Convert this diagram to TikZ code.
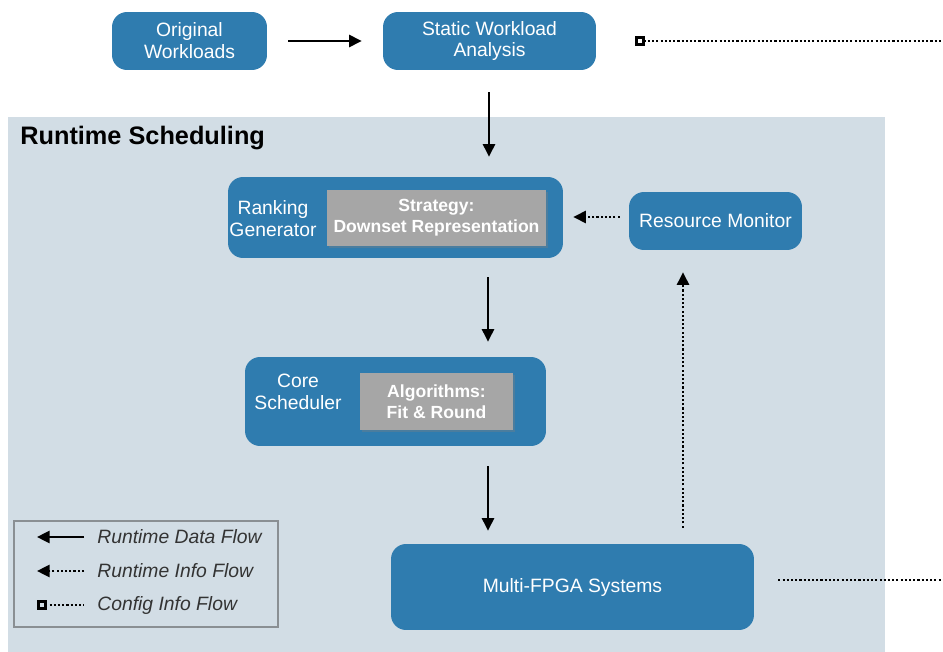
\documentclass[tikz,border=0pt]{standalone}
\usepackage{fontspec}
\setmainfont{Liberation Sans}
\usetikzlibrary{arrows.meta,shadows}

\definecolor{boxblue}{HTML}{2F7CAF}
\definecolor{panelgray}{HTML}{D2DDE5}
\definecolor{stratgray}{HTML}{A6A6A6}
\definecolor{legendline}{HTML}{8A8F93}

\tikzset{
  block/.style={fill=boxblue, rounded corners=0.3cm, text=white, align=center,
    font=\fontsize{11}{12.5}\selectfont, inner sep=0pt},
  blocktext/.style={text=white, align=center, font=\fontsize{11}{12.5}\selectfont, inner sep=0pt},
  strategybox/.style={fill=stratgray, text=white, align=center, inner sep=0pt,
    font=\bfseries\fontsize{10}{12}\selectfont,
    drop shadow={shadow xshift=1.2pt, shadow yshift=-1.2pt, opacity=0.35}},
  dataflow/.style={-{Triangle[length=7.2pt,width=7pt]}, line width=1.1pt},
  infoflow/.style={-{Triangle[length=7.2pt,width=7pt]}, line width=1.1pt, dash pattern=on 1.2pt off 1.2pt},
  configflow/.style={{Square[open,line width=1.5pt,length=5.5pt,width=5.5pt]}-, line width=1.1pt, dash pattern=on 1.2pt off 1.2pt},
  plaindots/.style={line width=1.1pt, dash pattern=on 1.2pt off 1.2pt},
  legtext/.style={anchor=west, inner sep=0pt, text=black!80, font=\itshape\fontsize{11}{13}\selectfont},
}

\begin{document}
\begin{tikzpicture}[x=0.02cm, y=-0.02cm]
    \useasboundingbox (0,0) rectangle (943,652);

    % Draw the scheduling panel
    \fill[panelgray] (8,117) rectangle (885,652);
    \node[anchor=west, inner sep=0pt, font=\bfseries\fontsize{14.4}{16}\selectfont] (title) at (20,138) {Runtime Scheduling};

    % Blocks outside the panel
    \node[block, minimum width=3.1cm, minimum height=1.16cm] (orig) at (189.5,41) {Original\\Workloads};
    \node[block, minimum width=4.26cm, minimum height=1.16cm] (static) at (489.5,41) {Static Workload\\Analysis};

    % Blocks inside the panel
    \node[block, minimum width=6.7cm, minimum height=1.62cm] (ranking) at (395.5,217.5) {};
    \node[blocktext] (rglabel) at (273,219) {Ranking\\Generator};
    \node[strategybox, minimum width=4.38cm, minimum height=1.12cm] (strategy) at (436.5,218) {Strategy:\\Downset Representation};

    \node[block, minimum width=3.46cm, minimum height=1.16cm] (monitor) at (715.5,221) {Resource Monitor};

    \node[block, minimum width=6.02cm, minimum height=1.78cm] (core) at (395.5,401.5) {};
    \node[blocktext] (corelabel) at (298,392) {Core\\Scheduler};
    \node[strategybox, minimum width=3.06cm, minimum height=1.14cm] (algo) at (436.5,401.5) {Algorithms:\\Fit \& Round};

    \node[block, minimum width=7.26cm, minimum height=1.72cm] (multi) at (572.5,587) {Multi-FPGA Systems};

    % Free ends of the flows
    \coordinate (upx) at (683,0);
    \coordinate (cfgend) at (943,41);
    \coordinate (sysend) at (943,580);

    % Flows between the blocks
    \draw[dataflow, shorten <=0.42cm, shorten >=0.42cm] (orig) -- (static);
    \draw[dataflow, shorten <=0.44cm, shorten >=0.4cm] (static.south -| 489,0) -- (ranking.north -| 489,0);
    \draw[dataflow, shorten <=0.38cm, shorten >=0.3cm] (ranking.south -| 488,0) -- (core.north -| 488,0);
    \draw[dataflow, shorten <=0.4cm, shorten >=0.26cm] (core.south -| 488,0) -- (multi.north -| 488,0);
    \draw[infoflow, shorten <=0.18cm, shorten >=0.2cm] (monitor.west |- 0,217) -- (ranking.east |- 0,217);
    \draw[infoflow, shorten <=0.32cm, shorten >=0.44cm] (multi.north -| upx) -- (monitor.south -| upx);
    \draw[configflow, shorten <=0.78cm] (static.east) -- (cfgend);
    \draw[plaindots, shorten <=0.48cm] (multi.east |- sysend) -- (sysend);

    % Legend
    \node[draw=legendline, line width=0.6pt, minimum width=5.28cm, minimum height=2.12cm] (legend) at (146,574) {};
    \node[legtext] (lg1) at (97,537) {Runtime Data Flow};
    \node[legtext] (lg2) at (97,571) {Runtime Info Flow};
    \node[legtext] (lg3) at (97,605) {Config Info Flow};
    \coordinate (l1a) at (84,537); \coordinate (l1b) at (37,537);
    \coordinate (l2a) at (84,571); \coordinate (l2b) at (37,571);
    \coordinate (l3a) at (37,605); \coordinate (l3b) at (84,605);
    \draw[dataflow] (l1a) -- (l1b);
    \draw[infoflow] (l2a) -- (l2b);
    \draw[configflow] (l3a) -- (l3b);
\end{tikzpicture}
\end{document}
